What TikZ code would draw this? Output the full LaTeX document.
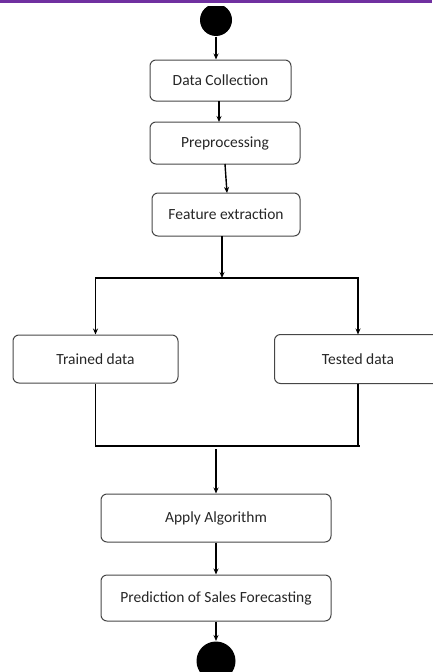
\documentclass[tikz,border=0pt]{standalone}
\usepackage{fontspec}
\setmainfont{Carlito}
\usetikzlibrary{arrows.meta}
\definecolor{topline}{RGB}{112,48,160}
\definecolor{boxline}{RGB}{70,70,70}

\begin{document}
\begin{tikzpicture}
  [x=1pt,y=-1pt,line width=1.4pt,>={Stealth[length=6pt,width=5pt]},
   every node/.style={draw=boxline,line width=1pt,rounded corners=6pt,font=\fontsize{15.5}{18}\selectfont,text=black!85},
   blob/.style={circle,fill=black,draw=none,minimum size=32pt,inner sep=0pt}]
  \useasboundingbox (0,0) rectangle (432,672);
  \fill[topline] (0,0) rectangle (432,2.5);
  \begin{scope}
    \clip (0,6) rectangle (432,672);
    \node[blob] (start) at (216,20) {};
    \node[blob,minimum size=39pt] (stop) at (216,661) {};
  \end{scope}
  \node[minimum width=141pt,minimum height=41pt] (collect) at (220.5,80.5) {Data Collection};
  \node[minimum width=150pt,minimum height=42pt] (prep) at (225,143) {Preprocessing};
  \node[minimum width=148pt,minimum height=43pt] (feat) at (226,214.5) {Feature extraction};
  \node[minimum width=165pt,minimum height=48pt] (train) at (95.5,359) {Trained data};
  % box runs off the right edge of the page
  \node[draw=none,minimum width=166pt,minimum height=48pt] (test) at (358,359) {Tested data};
  \draw[boxline,line width=1pt,rounded corners=6pt]
    ([xshift=30pt]test.north east) -- (test.north west) -- (test.south west) -- ([xshift=30pt]test.south east);
  \node[minimum width=230pt,minimum height=48pt] (algo) at (216,518) {Apply Algorithm};
  \node[minimum width=230pt,minimum height=46pt] (pred) at (216,598) {Prediction of Sales Forecasting};
  \coordinate (split) at (222,278);
  \coordinate (join) at (216,446);
  \coordinate (joinend) at (360,446);

  \draw[->] (start.south) -- (start.south |- collect.north);
  \draw[->] (219,101) -- (219,122);
  \draw[->] (225,164) -- (227,193);
  \draw[->] (222,236) -- (split);
  \foreach \to in {train,test}
    \draw[->] (split) -| (\to.north);
  \draw (train.south) |- (joinend);
  \draw (test.south) -- (test.south |- join);
  \draw[->] (216,449) -- (algo.north);
  \foreach \from/\to in {algo/pred,pred/stop}
    \draw[->] (\from.south) -- (\to.north);

\end{tikzpicture}
\end{document}
